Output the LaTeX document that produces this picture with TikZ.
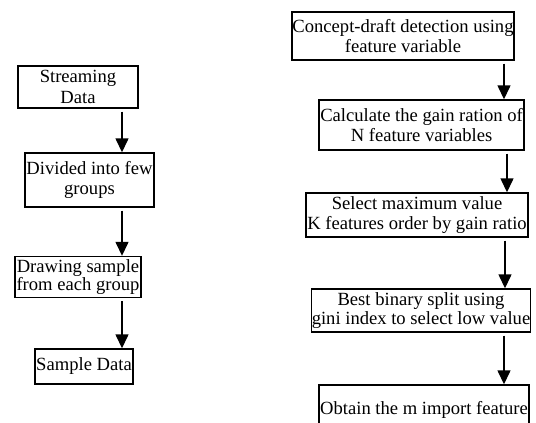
\documentclass[tikz,border=0pt]{standalone}
\usepackage{fontspec}
\setmainfont{Liberation Serif}
\usepackage{tikz}
\usetikzlibrary{arrows.meta}

\begin{document}
\begin{tikzpicture}[x=1pt, y=-1pt,
    flowbox/.style={draw=black, line width=1.4pt, inner sep=0pt, align=center,
      font=\fontsize{18.6}{20.5}\selectfont},
    flowarr/.style={line width=1.4pt, shorten <=3pt,
      -{Triangle[length=14pt, width=13pt]}}]
  \useasboundingbox (0,0) rectangle (536,423);
  \clip (0,0) rectangle (536,423);
  % left column
  \node[flowbox, minimum width=120pt, minimum height=42pt] (stream) at (78,87) {Streaming\\Data};
  \node[flowbox, minimum width=129pt, minimum height=54pt] (divide) at (89.5,180) {Divided into few\\groups};
  \node[flowbox, minimum width=126pt, minimum height=41pt] (drawing) at (78,277) {Drawing sample\\[-3pt]from each group};
  \node[flowbox, minimum width=98pt, minimum height=35pt] (sample) at (84,366.5) {Sample Data};
  \draw[flowarr] (stream.south -| 122,0) -- (divide.north -| 122,0);
  \draw[flowarr] (divide.south -| 122,0) -- (drawing.north -| 122,0);
  \draw[flowarr] (drawing.south -| 122,0) -- (sample.north -| 122,0);
  % right column
  \node[flowbox, minimum width=222pt, minimum height=48pt] (concept) at (403,36) {Concept-draft detection using\\feature variable};
  \node[flowbox, minimum width=205pt, minimum height=50pt] (gain) at (421.5,125) {Calculate the gain ration of\\N feature variables};
  \node[flowbox, minimum width=222pt, minimum height=44pt] (select) at (417,215) {Select maximum value\\K features order by gain ratio};
  \node[flowbox, minimum width=218pt, minimum height=43pt] (split) at (421,310.5) {Best binary split using\\[-2pt]gini index to select low value};
  \node[flowbox, minimum width=210pt, minimum height=50pt] (obtain) at (424,410) {Obtain the m import feature};
  \draw[flowarr] (concept.south -| 504,0) -- (gain.north -| 504,0);
  \draw[flowarr] (gain.south -| 507,0) -- (select.north -| 507,0);
  \draw[flowarr] (select.south -| 505,0) -- (split.north -| 505,0);
  \draw[flowarr] (split.south -| 504,0) -- (obtain.north -| 504,0);
\end{tikzpicture}
\end{document}
